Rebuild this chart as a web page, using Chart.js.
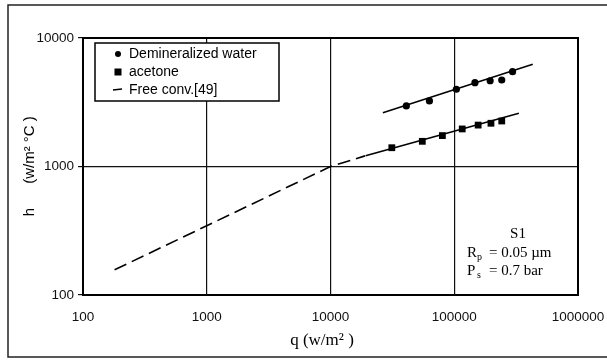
<!DOCTYPE html>
<html>
<head>
<meta charset="utf-8">
<script src="https://cdn.jsdelivr.net/npm/chart.js@4/dist/chart.umd.min.js"></script>
<style>
  html, body { margin: 0; padding: 0; background: #fff; }
  #wrap { width: 607px; height: 361px; }
</style>
</head>
<body>
<div id="wrap"><canvas id="chart" width="607" height="361"></canvas></div>
<script>
// heat flux q (w/m2) and heat transfer coefficient h (w/m2 C)
const waterQ = [41000, 63000, 104000, 147000, 195000, 242000, 296000];
const waterH = [2960, 3240, 3990, 4490, 4650, 4710, 5470];
const acetoneQ = [31300, 55200, 80200, 116000, 156000, 198000, 242000];
const acetoneH = [1400, 1570, 1740, 1960, 2100, 2170, 2260];

// fitted lines through each series
const waterFitQ = [26500, 431000];
const waterFitH = [2620, 6240];
const acetoneFitQ = [19200, 333000];
const acetoneFitH = [1213, 2595];

// free convection correlation [49]
const freeConvQ = [180, 10000, 19000];
const freeConvH = [157, 1000, 1210];

const xTicks = [100, 1000, 10000, 100000, 1000000];
const yTicks = [100, 1000, 10000];

const pts = (xs, ys) => xs.map((x, i) => ({ x: x, y: ys[i] }));

const sans = '"Liberation Sans", Arial, sans-serif';
const serif = '"Liberation Serif", "Times New Roman", serif';

const frame = {
    id: 'frame',
    beforeDraw(chart) {
        const ctx = chart.ctx;
        ctx.save();
        ctx.fillStyle = '#fff';
        ctx.fillRect(0, 0, chart.width, chart.height);
        ctx.restore();
    },
    afterDatasetsDraw(chart) {
        const ctx = chart.ctx;
        const a = chart.chartArea;
        ctx.save();
        // plot box
        ctx.strokeStyle = '#000';
        ctx.lineWidth = 2;
        ctx.strokeRect(a.left, a.top, a.right - a.left, a.bottom - a.top);

        // outer border (open on the right)
        ctx.lineWidth = 1.5;
        ctx.strokeStyle = '#222';
        ctx.beginPath();
        ctx.moveTo(chart.width, 5);
        ctx.lineTo(8, 5);
        ctx.lineTo(8, 357);
        ctx.lineTo(chart.width, 357);
        ctx.stroke();

        // legend box
        const lx = 95, ly = 43, lw = 184, lh = 58;
        ctx.fillStyle = '#fff';
        ctx.fillRect(lx, ly, lw, lh);
        ctx.lineWidth = 1.5;
        ctx.strokeStyle = '#000';
        ctx.strokeRect(lx, ly, lw, lh);

        ctx.fillStyle = '#000';
        ctx.font = '14px ' + sans;
        ctx.textBaseline = 'middle';
        const rows = [54, 72, 90];
        chart.data.datasets.slice(0, 3).forEach((ds, i) => {
            const y = rows[i];
            if (ds.pointStyle === 'circle') {
                ctx.beginPath();
                ctx.arc(118, y, 3, 0, Math.PI * 2);
                ctx.fill();
            } else if (ds.pointStyle === 'rect') {
                ctx.fillRect(114.5, y - 3.5, 7, 7);
            } else {
                ctx.lineWidth = 1.5;
                ctx.beginPath();
                ctx.moveTo(113, y);
                ctx.lineTo(122, y - 1);
                ctx.stroke();
            }
            ctx.fillText(ds.label, 129, y);
        });

        // axis titles
        ctx.font = '15px ' + sans;
        ctx.save();
        ctx.translate(30, 0);
        ctx.rotate(-Math.PI / 2);
        ctx.textAlign = 'center';
        ctx.fillText('h', -212, 0);
        ctx.fillText('(w/m² °C )', -150, 0);
        ctx.restore();

        ctx.font = '17px ' + serif;
        ctx.textAlign = 'center';
        ctx.fillText('q (w/m² )', 322, 341);

        // sample details
        ctx.font = '15px ' + serif;
        ctx.fillText('S1', 518, 234);
        ctx.textAlign = 'left';
        ctx.fillText('R', 467, 253);
        ctx.fillText('P', 467, 271);
        ctx.font = '10px ' + serif;
        ctx.fillText('p', 477, 257);
        ctx.fillText('s', 477, 275);
        ctx.font = '15px ' + serif;
        ctx.fillText('= 0.05 µm', 489, 253);
        ctx.fillText('= 0.7 bar', 489, 271);
        ctx.restore();
    }
};

new Chart(document.getElementById('chart'), {
    type: 'scatter',
    data: {
        datasets: [
            {
                label: 'Demineralized water',
                data: pts(waterQ, waterH),
                pointStyle: 'circle',
                pointRadius: 3.6,
                backgroundColor: '#000',
                borderColor: '#000',
                borderWidth: 0
            },
            {
                label: 'acetone',
                data: pts(acetoneQ, acetoneH),
                pointStyle: 'rect',
                pointRadius: 4.8,
                backgroundColor: '#000',
                borderColor: '#000',
                borderWidth: 0
            },
            {
                label: 'Free conv.[49]',
                data: pts(freeConvQ, freeConvH),
                pointStyle: 'line',
                showLine: true,
                pointRadius: 0,
                borderColor: '#000',
                borderWidth: 1.6,
                borderDash: [13, 6]
            },
            {
                label: 'water fit',
                data: pts(waterFitQ, waterFitH),
                showLine: true,
                pointRadius: 0,
                borderColor: '#000',
                borderWidth: 1.6
            },
            {
                label: 'acetone fit',
                data: pts(acetoneFitQ, acetoneFitH),
                showLine: true,
                pointRadius: 0,
                borderColor: '#000',
                borderWidth: 1.6
            }
        ]
    },
    options: {
        responsive: false,
        animation: false,
        layout: {
            padding: { left: 0, top: 38, right: 29, bottom: 0 }
        },
        plugins: {
            legend: { display: false },
            tooltip: { enabled: false }
        },
        scales: {
            x: {
                type: 'logarithmic',
                min: 100,
                max: 1000000,
                afterBuildTicks: (scale) => { scale.ticks = xTicks.map(v => ({ value: v })); },
                afterFit: (scale) => {
                    scale.height = 66;
                    scale.paddingLeft = 0;
                    scale.paddingRight = 0;
                },
                grid: { color: '#111', lineWidth: 1.2, drawTicks: false },
                border: { color: '#000', width: 2 },
                ticks: {
                    color: '#111',
                    padding: 14,
                    maxRotation: 0,
                    autoSkip: false,
                    font: { family: sans, size: 13.5 },
                    callback: (v) => String(v)
                }
            },
            y: {
                type: 'logarithmic',
                min: 100,
                max: 10000,
                afterBuildTicks: (scale) => { scale.ticks = yTicks.map(v => ({ value: v })); },
                afterFit: (scale) => {
                    scale.width = 83;
                    scale.paddingTop = 0;
                    scale.paddingBottom = 0;
                },
                grid: { color: '#111', lineWidth: 1.2, tickLength: 5 },
                border: { color: '#000', width: 2 },
                ticks: {
                    color: '#111',
                    padding: 4,
                    autoSkip: false,
                    font: { family: sans, size: 13.5 },
                    callback: (v) => String(v)
                }
            }
        }
    },
    plugins: [frame]
});
</script>
</body>
</html>
